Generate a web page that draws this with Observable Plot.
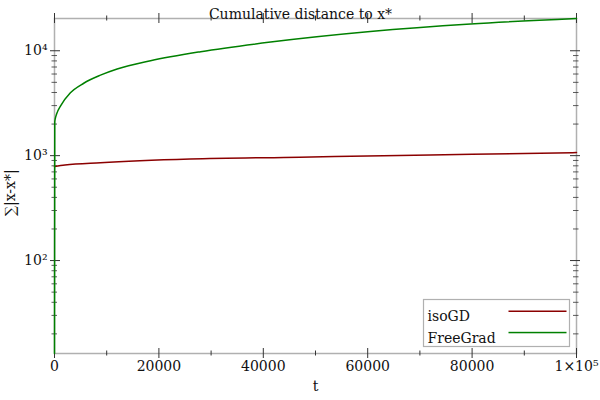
<!DOCTYPE html>
<html>
<head>
<meta charset="utf-8">
<script src="https://cdn.jsdelivr.net/npm/d3@7"></script>
<script src="https://cdn.jsdelivr.net/npm/@observablehq/plot@0.6"></script>
<style>
  html, body { margin: 0; padding: 0; background: white; }
  #chart { width: 600px; height: 400px; }
</style>
</head>
<body>
<div id="chart"></div>
<script>
const title = "Cumulative distance to x*";
const xLabel = "t";
const yLabel = "∑|x-x*|";
const seriesNames = ["isoGD", "FreeGrad"];
const seriesColors = ["#8b0000", "#008000"];

const isoT = [0, 2000, 8800, 26000, 47000, 63000, 80000, 100000];
const isoV = [790, 815, 858, 930, 968, 1000, 1029, 1070];

const freeT = [0, 50, 150, 400, 1200, 3000, 5600, 8800, 12000, 18400, 28000, 41400, 60500, 79700, 100000];
const freeV = [13, 2100, 2250, 2490, 3000, 3950, 4900, 5850, 6700, 8030, 9800, 12100, 15250, 18000, 20300];

const xTicks = [0, 20000, 40000, 60000, 80000, 100000];
const xTickLabels = ["0", "20000", "40000", "60000", "80000", "1×10⁵"];
const xMinor = [10000, 30000, 50000, 70000, 90000];
const yTicks = [100, 1000, 10000];
const yTickLabels = ["10²", "10³", "10⁴"];
const yMinor = [20, 30, 40, 50, 60, 70, 80, 90, 200, 300, 400, 500, 600, 700, 800, 900, 2000, 3000, 4000, 5000, 6000, 7000, 8000, 9000];
const yDomain = [13, 20300];
const xDomain = [0, 100000];

const rows = [
  ...isoT.map((t, i) => ({t, v: isoV[i], s: seriesNames[0]})),
  ...freeT.map((t, i) => ({t, v: freeV[i], s: seriesNames[1]}))
];

const W = 600, H = 400;
const mL = 54, mR = 24, mT = 18, mB = 47;
const fw = W - mL - mR, fh = H - mT - mB;
const xLab = new Map(xTicks.map((d, i) => [d, xTickLabels[i]]));
const yLab = new Map(yTicks.map((d, i) => [d, yTickLabels[i]]));
const tickCol = "#333";
const frameCol = "#b0b0b0";

const plot = Plot.plot({
  width: W, height: H,
  marginLeft: mL, marginRight: mR, marginTop: mT, marginBottom: mB,
  style: {fontFamily: "'DejaVu Serif', serif", fontSize: "14px", background: "white", color: "#111"},
  x: {domain: xDomain},
  y: {type: "log", domain: yDomain},
  color: {domain: seriesNames, range: seriesColors},
  marks: [
    Plot.frame({stroke: frameCol, strokeWidth: 1.5}),
    Plot.tickX(xTicks, {x: d => d, stroke: tickCol, insetTop: fh - 5, insetBottom: -5}),
    Plot.tickX(xTicks, {x: d => d, stroke: tickCol, insetTop: -5, insetBottom: fh - 5}),
    Plot.tickX(xMinor, {x: d => d, stroke: tickCol, insetTop: fh - 2.5, insetBottom: -2.5}),
    Plot.tickX(xMinor, {x: d => d, stroke: tickCol, insetTop: -2.5, insetBottom: fh - 2.5}),
    Plot.tickY(yTicks, {y: d => d, stroke: tickCol, insetLeft: -4, insetRight: fw - 6}),
    Plot.tickY(yTicks, {y: d => d, stroke: tickCol, insetLeft: fw - 6, insetRight: -4}),
    Plot.tickY(yMinor, {y: d => d, stroke: tickCol, strokeOpacity: 0.8, insetLeft: -2.5, insetRight: fw - 3}),
    Plot.tickY(yMinor, {y: d => d, stroke: tickCol, strokeOpacity: 0.8, insetLeft: fw - 3, insetRight: -2.5}),
    Plot.axisX({ticks: xTicks, tickFormat: d => xLab.get(d), tickSize: 0, tickPadding: 8, label: null, fill: "#111"}),
    Plot.axisY({ticks: yTicks, tickFormat: d => yLab.get(d), tickSize: 0, tickPadding: 7, label: null, fill: "#111"}),
    Plot.line(rows, {x: "t", y: "v", z: "s", stroke: "s", strokeWidth: 1.5, curve: "monotone-x"}),
    Plot.text([title], {text: d => d, frameAnchor: "top", dx: -15, dy: -9, fill: "#111"}),
    Plot.text([xLabel], {text: d => d, frameAnchor: "bottom", dy: 37, fill: "#111"}),
    Plot.text([yLabel], {text: d => d, frameAnchor: "left", rotate: -90, dx: -44, dy: 30, fill: "#111"}),
    Plot.frame({fill: "white", stroke: frameCol, strokeWidth: 1.2, insetLeft: 369, insetRight: 7, insetTop: 281, insetBottom: 7}),
    Plot.frame({fill: seriesColors[0], stroke: null, insetLeft: 454, insetRight: 10, insetTop: 292, insetBottom: 41.5}),
    Plot.frame({fill: seriesColors[1], stroke: null, insetLeft: 454, insetRight: 10, insetTop: 313.3, insetBottom: 20.2}),
    Plot.text([seriesNames[0]], {text: d => d, frameAnchor: "top-left", textAnchor: "start", dx: 373, dy: 293, fill: "#111"}),
    Plot.text([seriesNames[1]], {text: d => d, frameAnchor: "top-left", textAnchor: "start", dx: 373, dy: 314.5, fill: "#111"})
  ]
});
document.getElementById("chart").appendChild(plot);
</script>
</body>
</html>
